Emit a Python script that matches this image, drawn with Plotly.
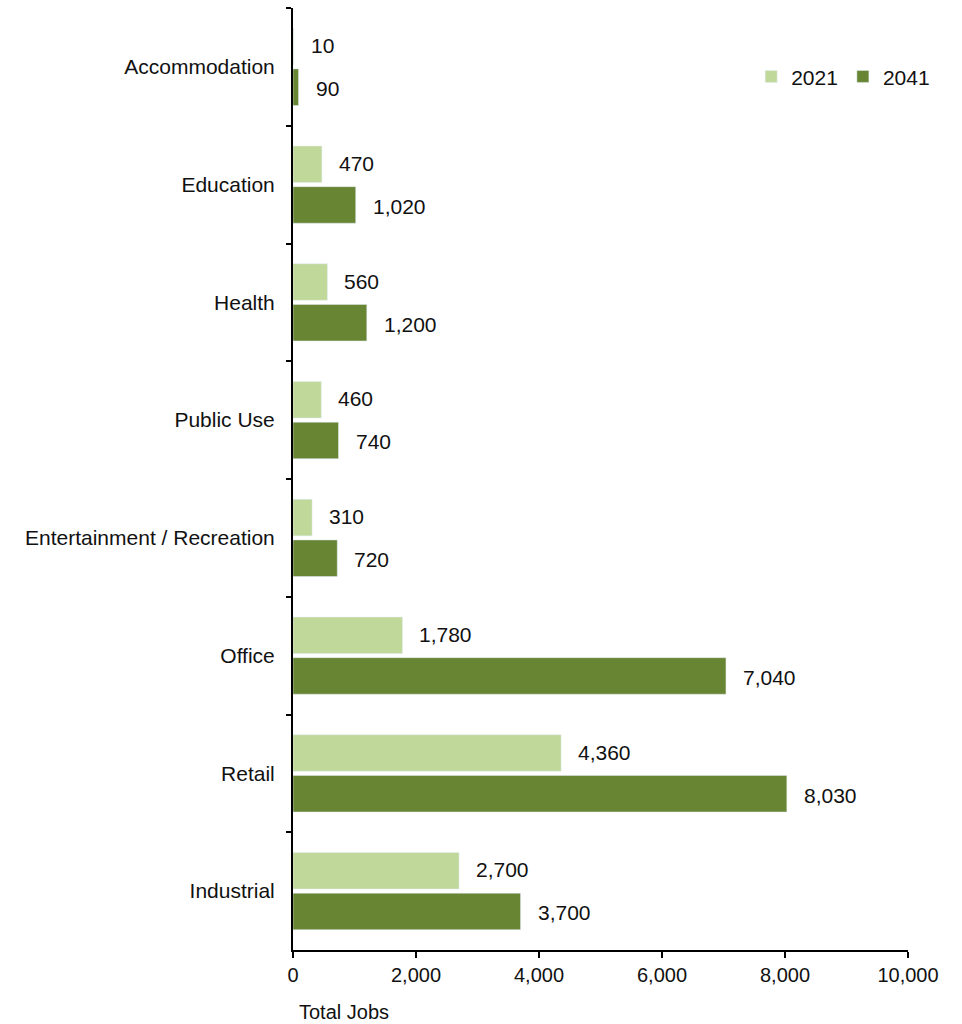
import plotly.graph_objects as go

categories = ["Accommodation", "Education", "Health", "Public Use",
              "Entertainment / Recreation", "Office", "Retail", "Industrial"]
jobs_2021 = [10, 470, 560, 460, 310, 1780, 4360, 2700]
jobs_2041 = [90, 1020, 1200, 740, 720, 7040, 8030, 3700]

light_green = "#c0d89a"
dark_green = "#678533"
font_family = "Liberation Sans, Arial, sans-serif"

fig = go.Figure()
fig.add_trace(go.Bar(y=categories, x=jobs_2021, orientation="h", name="2021",
                     marker_color=light_green))
fig.add_trace(go.Bar(y=categories, x=jobs_2041, orientation="h", name="2041",
                     marker_color=dark_green))

# value labels just right of each bar end
for tr_idx, vals in enumerate([jobs_2021, jobs_2041]):
    offset = -0.18 if tr_idx == 0 else 0.185
    for i, v in enumerate(vals):
        fig.add_annotation(x=v, y=i + offset, xref="x", yref="y",
                           text=f"{v:,}", showarrow=False, xanchor="left",
                           xshift=15, font=dict(size=21, color="#111111"))

fig.add_annotation(text="Total Jobs", xref="paper", yref="paper", x=0.006, y=-0.066,
                   xanchor="left", yanchor="middle", showarrow=False,
                   font=dict(size=20, color="#111111"))

fig.update_layout(
    width=962, height=1024,
    margin=dict(l=293, r=54, t=8, b=74, autoexpand=False),
    paper_bgcolor="white", plot_bgcolor="white",
    barmode="group", bargap=0.31, bargroupgap=0.1,
    font=dict(family=font_family, size=21, color="#111111"),
    legend=dict(orientation="h", x=0.745, y=0.927, xanchor="left", yanchor="middle",
                font=dict(size=21), itemwidth=30, tracegroupgap=0,
                bgcolor="rgba(0,0,0,0)"),
    xaxis=dict(range=[0, 10000], tickvals=[0, 2000, 4000, 6000, 8000, 10000],
               tickformat=",", showgrid=False, zeroline=False, automargin=False,
               showline=True, linecolor="black", linewidth=2,
               ticks="outside", ticklen=6, tickwidth=2, tickcolor="black",
               tickfont=dict(size=20)),
    yaxis=dict(categoryorder="array", categoryarray=categories, autorange="reversed",
               showgrid=False, zeroline=False, showline=True, linecolor="black",
               linewidth=2, ticks="outside", ticklen=5, tickwidth=2, automargin=False,
               tickcolor="black", tickson="boundaries", ticklabelstandoff=12,
               tickfont=dict(size=21)),
)

fig.write_html("out.html")
